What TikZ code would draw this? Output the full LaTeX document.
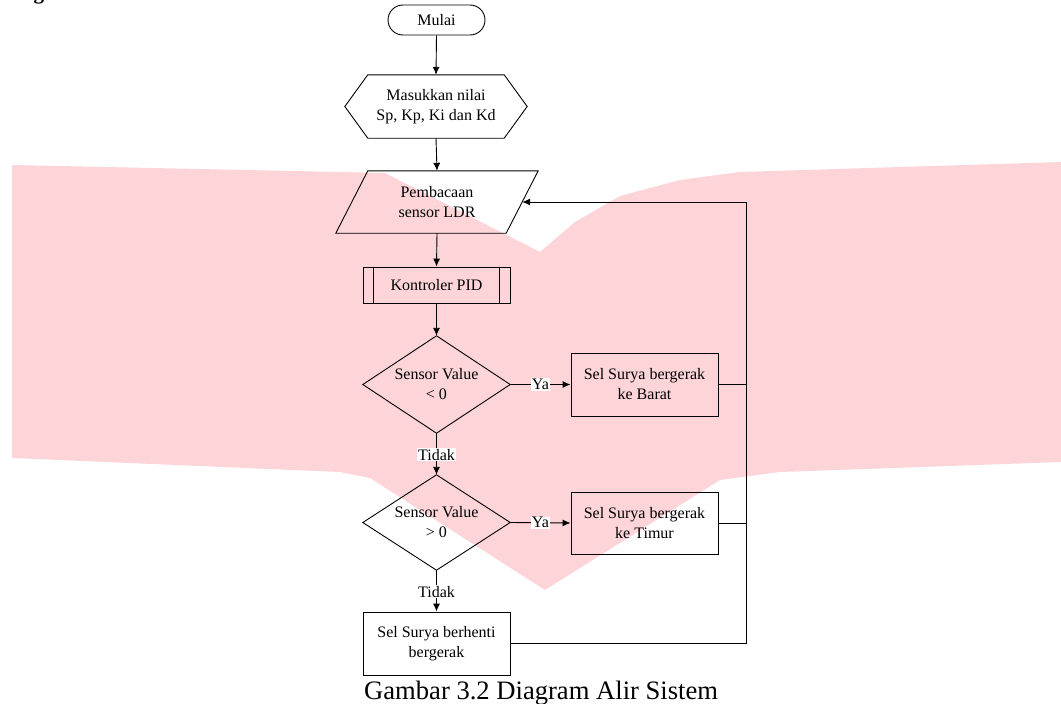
\documentclass[tikz,border=0pt]{standalone}
\usepackage{fontspec}
\setmainfont{Liberation Serif}
\usetikzlibrary{arrows.meta}
\definecolor{wmpink}{RGB}{253,212,216}
\begin{document}
\begin{tikzpicture}[x=1pt,y=-1pt,
  every node/.style={font=\fontsize{16}{20}\selectfont, inner sep=0pt},
  line/.style={line width=0.9pt, draw=black},
  arr/.style={line, -{Latex[length=8pt,width=7pt]}},
  boxshape/.style={draw=black, line width=0.9pt, minimum width=147pt, align=center},
  ghost/.style={draw=none, align=center},
  lbl/.style={fill=white, inner sep=0.8pt}
]
\useasboundingbox (0,0) rectangle (1061,704);
% watermark
\fill[wmpink] (12,165) -- (385,173) -- (540,252) -- (575,222) -- (620,196) -- (680,180) -- (740,172) -- (1061,162)
  -- (1061,462) -- (780,472) -- (720,480) -- (545,590) -- (370,478) -- (340,472) -- (12,458) -- cycle;
% partial heading glyph
\node[anchor=base, font=\fontsize{21}{24}\selectfont\bfseries] (hd) at (39,-1) {g};

% nodes
\node[draw=black, line width=0.9pt, rounded corners=15pt, minimum width=97pt, minimum height=30pt] (start) at (436.5,20) {Mulai};
\node[ghost, minimum width=182pt, minimum height=63pt] (in) at (436,106.5) {Masukkan nilai\\Sp, Kp, Ki dan Kd};
\draw[line] (in.west) -- ([xshift=23pt]in.north west) -- ([xshift=-23pt]in.north east) -- (in.east)
  -- ([xshift=-23pt]in.south east) -- ([xshift=23pt]in.south west) -- cycle;
\node[ghost, minimum width=170pt, minimum height=62pt] (rd) at (437,202) {Pembacaan\\sensor LDR};
\draw[line] ([xshift=16pt]rd.north west) -- ([xshift=16pt]rd.north east) -- ([xshift=-16pt]rd.south east)
  -- ([xshift=-16pt]rd.south west) -- cycle;
\node[boxshape, minimum height=36pt] (pid) at (436.5,285) {Kontroler PID};
\draw[line] ([xshift=11pt]pid.north west) -- ([xshift=11pt]pid.south west);
\draw[line] ([xshift=-11pt]pid.north east) -- ([xshift=-11pt]pid.south east);
\node[ghost, minimum width=147pt, minimum height=97pt] (d1) at (436.5,384.5) {Sensor Value\\< 0};
\draw[line] (d1.north) -- (d1.east) -- (d1.south) -- (d1.west) -- cycle;
\node[ghost, minimum width=147pt, minimum height=95pt] (d2) at (436.5,522.5) {Sensor Value\\> 0};
\draw[line] (d2.north) -- (d2.east) -- (d2.south) -- (d2.west) -- cycle;
\node[boxshape, minimum height=63pt] (b1) at (644.5,384.5) {Sel Surya bergerak\\ke Barat};
\node[boxshape, minimum height=62pt] (b2) at (644.5,523) {Sel Surya bergerak\\ke Timur};
\node[boxshape, minimum height=63pt] (stop) at (436.5,643.5) {Sel Surya berhenti\\bergerak};
\coordinate (fbtop) at (746,202);

% connectors
\draw[arr] (start.south) -- (in.north);
\draw[arr] (in.south) -- (rd.north);
\draw[arr] (rd.south) -- (pid.north);
\draw[arr] (pid.south) -- (d1.north);
\draw[arr] (d1.east) -- node[lbl] {Ya} (b1.west);
\draw[arr] (d1.south) -- node[lbl, pos=0.52] {Tidak} (d2.north);
\draw[arr] (d2.east) -- node[lbl] {Ya} (b2.west);
\draw[arr] (d2.south) -- node[lbl, pos=0.52] {Tidak} (stop.north);
\draw[arr] (stop.east) -| (fbtop) -- (rd.east);
\draw[line] (b1.east) -- (b1.east -| fbtop);
\draw[line] (b2.east) -- (b2.east -| fbtop);

% caption
\node[anchor=base west, font=\fontsize{26.6}{30}\selectfont] (cap) at (364,699) {Gambar 3.2 Diagram Alir Sistem};
\end{tikzpicture}
\end{document}
